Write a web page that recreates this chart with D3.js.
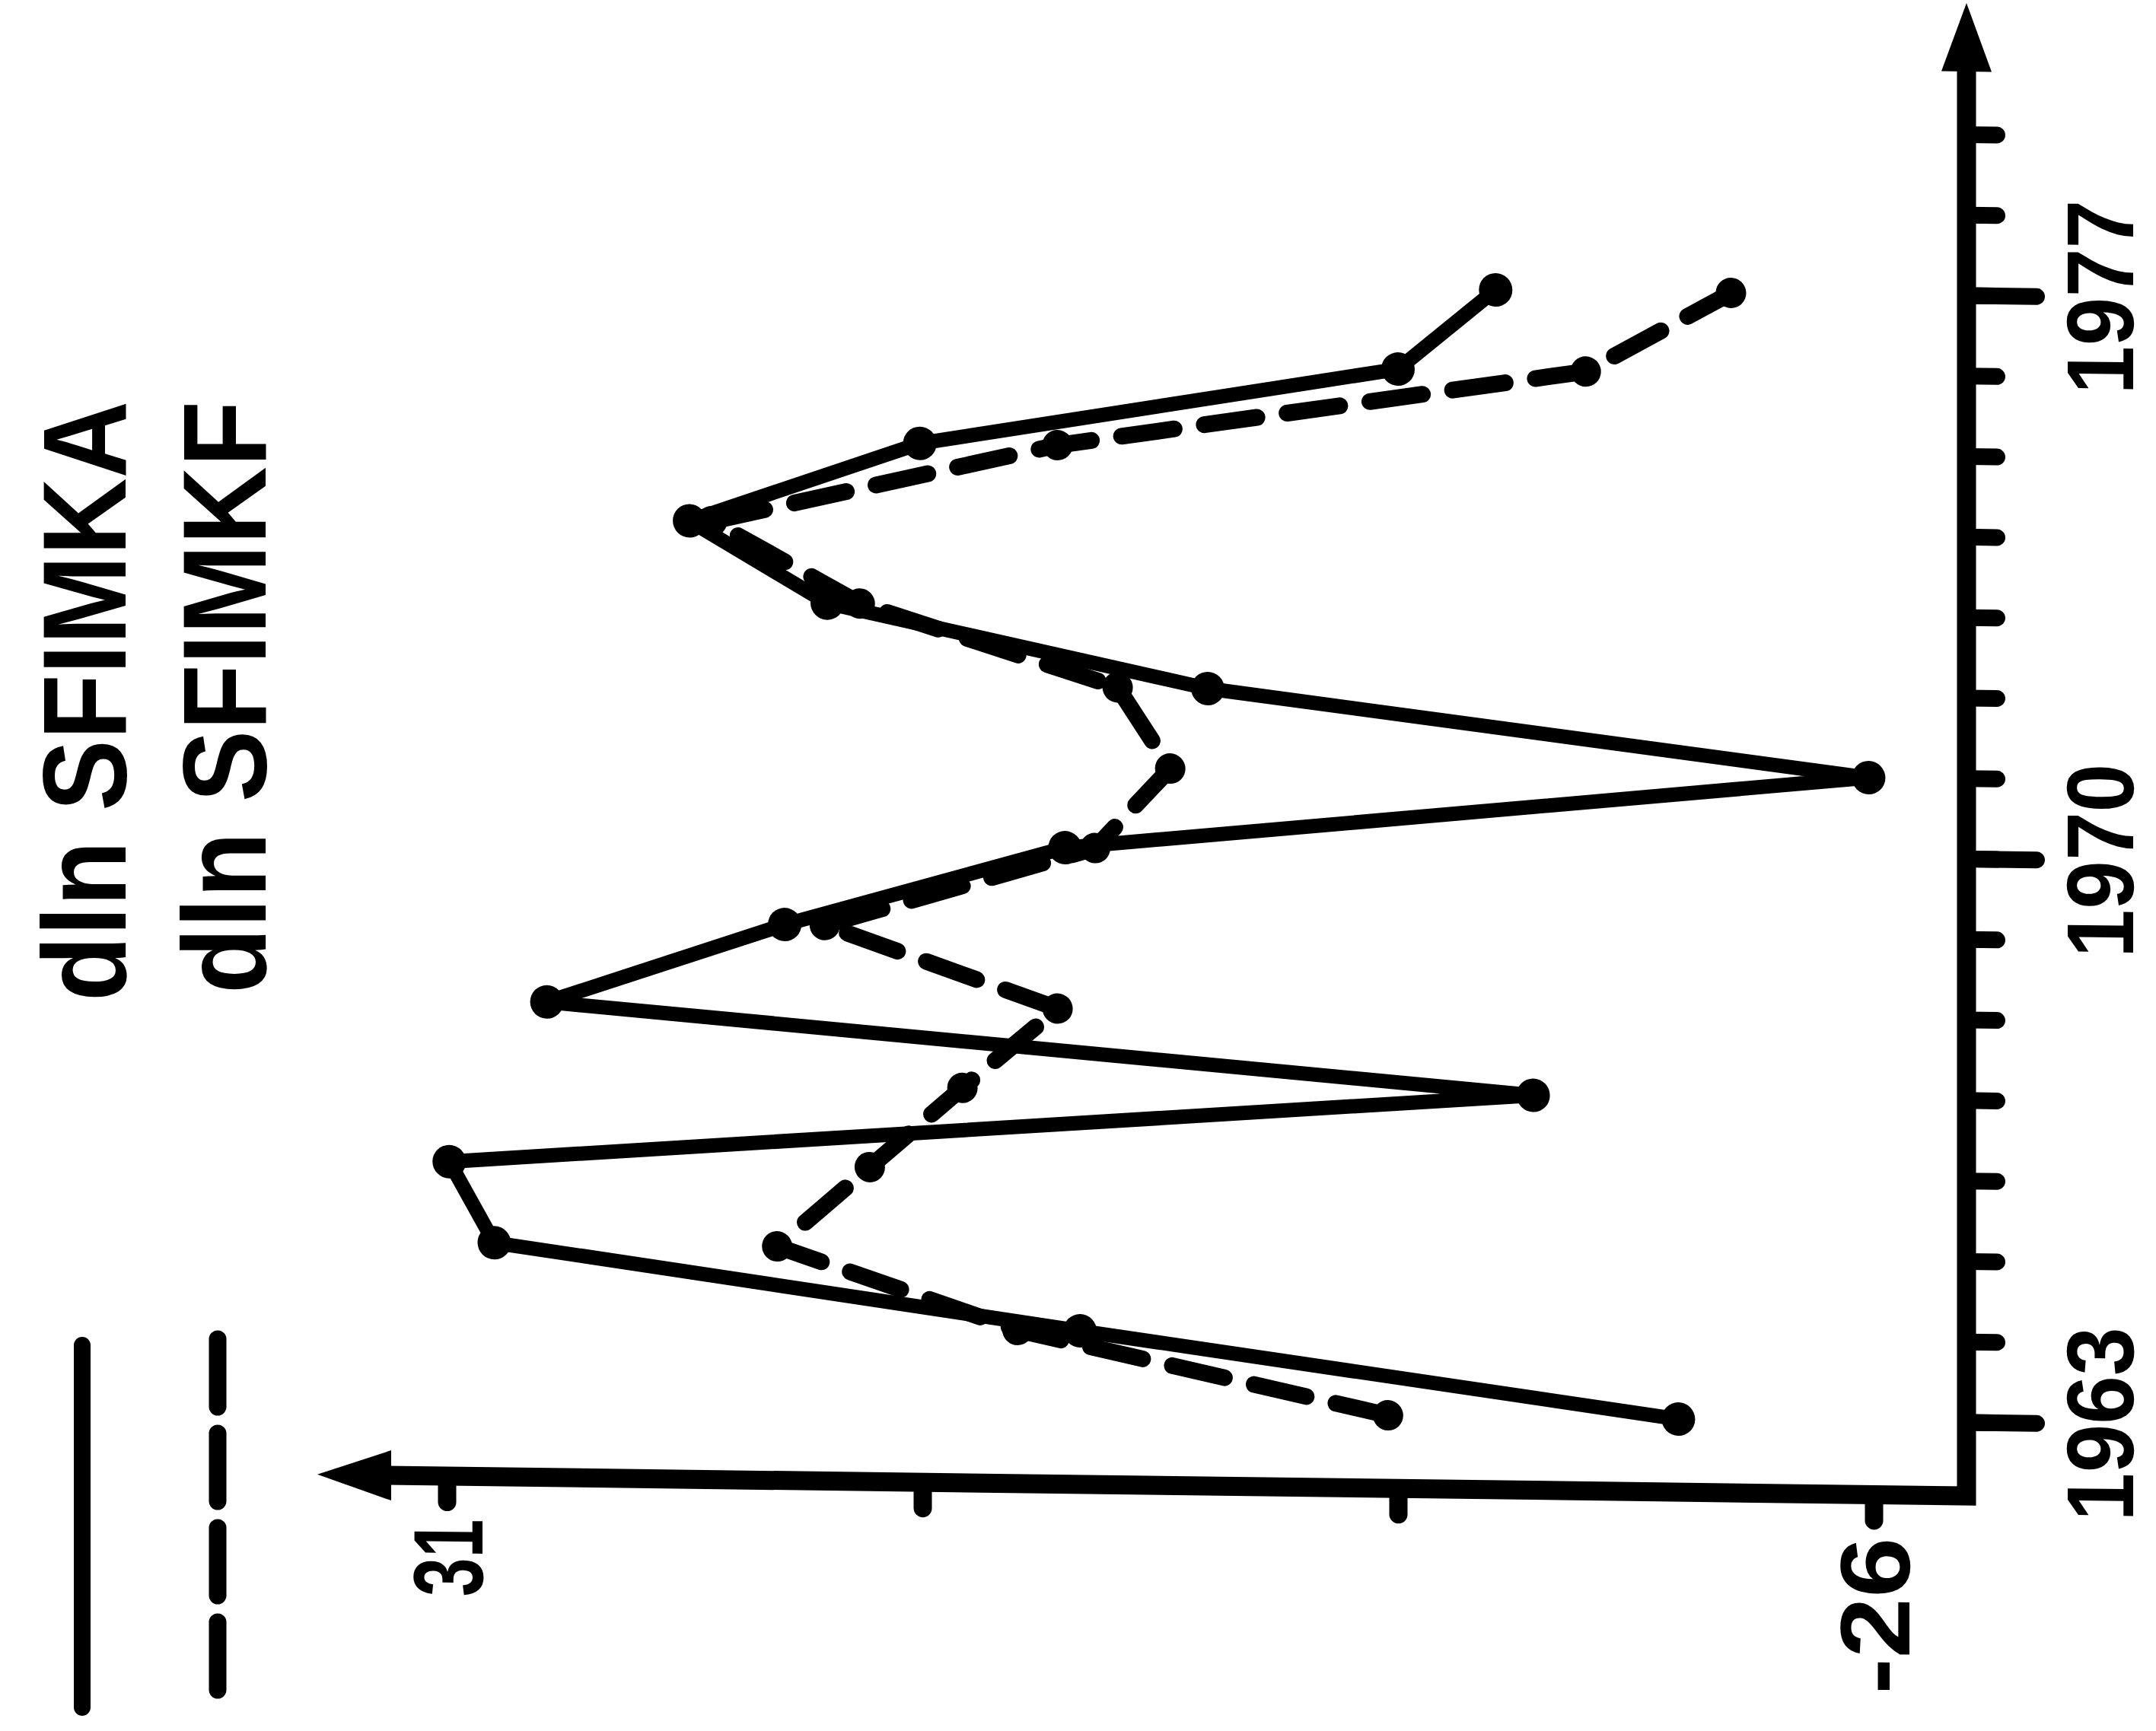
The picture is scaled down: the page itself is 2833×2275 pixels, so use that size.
<!DOCTYPE html>
<html><head><meta charset="utf-8">
<script src="https://cdn.jsdelivr.net/npm/d3@7"></script>
<style>body{margin:0;background:#fff}svg{display:block}</style>
</head><body>
<svg id="c" width="2833" height="2275"></svg>
<script>
// ---- data ----
const years = [1963,1964,1965,1966,1967,1968,1969,1970,1971,1972,1973,1974,1975,1976,1977];
const sfimka = [-18.2, 5.7, 29.1, 30.9, -12.4, 27.0, 17.5, 6.3, -25.8, 0.6, 15.8, 21.3, 12.1, -7.0, -10.9];
const sfimkf = [-6.6, 8.2, 17.8, 14.1, 10.4, 6.6, 15.9, 5.1, 2.1, 4.2, 14.5, 20.4, 6.6, -14.5, -20.3];
const yearTicks = [1963,1964,1965,1966,1967,1968,1969,1970,1971,1972,1973,1974,1975,1976,1977,1978,1979];
const yearLabels = [1963,1970,1977];
const valueTicks = [31,12,-7,-26];
const valueLabels = [31,-26];
const seriesNames = ["dln SFIMKA","dln SFIMKF"];

const FONT = "'Liberation Sans', Arial, sans-serif";
const svg = d3.select("#c");
svg.append("rect").attr("width",2833).attr("height",2275).attr("fill","#fff");

// chart drawn in natural orientation, turned 90deg CCW, with the slight slant of the scan
const g = svg.append("g").attr("transform","translate(2584,1966) matrix(1,0.013,0,1,0,0) rotate(-90)");

const x = d3.scaleLinear().domain([1963,1977]).range([96,1577]);
const y = d3.scaleLinear().domain([31,-26]).range([-1997,-122]);

// axis lines with arrows
const valTip = -2167, yearTip = 1962;
g.append("path").attr("d",`M0,${valTip+90}L0,0L${yearTip-85},0`)
  .attr("fill","none").attr("stroke","#000").attr("stroke-width",25).attr("stroke-linejoin","miter");
g.append("path").attr("d",`M0,${valTip}L-33,${valTip+97}L33,${valTip+97}Z`).attr("fill","#000");
g.append("path").attr("d",`M${yearTip},0L${yearTip-90},-33L${yearTip-90},33Z`).attr("fill","#000");

// value axis (appears at bottom after rotation)
const ya = g.append("g").call(d3.axisLeft(y).tickValues(valueTicks).tickSize(34).tickPadding(22)
  .tickFormat(d => valueLabels.includes(d) ? d : ""));
ya.select(".domain").remove();
ya.selectAll(".tick line").attr("stroke","#000").attr("stroke-width",24).attr("stroke-linecap","round");
ya.selectAll(".tick text").attr("fill","#000").attr("font-family",FONT).attr("font-weight","bold")
  .attr("font-size",130).attr("dy","0.36em")
  .attr("textLength", d => d===31 ? 102 : 206).attr("lengthAdjust","spacingAndGlyphs");

// year axis: short ticks
const xa = g.append("g").call(d3.axisBottom(x).tickValues(yearTicks).tickSize(40).tickFormat(""));
xa.select(".domain").remove();
xa.selectAll(".tick line").attr("stroke","#000").attr("stroke-width",22).attr("stroke-linecap","round");
// long labelled ticks
const xb = g.append("g").call(d3.axisBottom(x).tickValues(yearLabels).tickSize(92).tickPadding(38).tickFormat(d3.format("d")));
xb.select(".domain").remove();
xb.selectAll(".tick line").attr("stroke","#000").attr("stroke-width",22).attr("stroke-linecap","round");
xb.selectAll(".tick text").attr("fill","#000").attr("font-family",FONT).attr("font-weight","bold")
  .attr("font-size",125).attr("textLength",255).attr("lengthAdjust","spacingAndGlyphs");

// series
const A = years.map((yr,i)=>({yr, v:sfimka[i]}));
const F = years.map((yr,i)=>({yr, v:sfimkf[i]}));
const line = d3.line().x(d=>x(d.yr)).y(d=>y(d.v));

g.append("path").datum(F).attr("d",line).attr("fill","none").attr("stroke","#000")
  .attr("stroke-width",22).attr("stroke-dasharray","70 40").attr("stroke-linecap","round").attr("stroke-linejoin","round");
g.append("path").datum(A).attr("d",line).attr("fill","none").attr("stroke","#000")
  .attr("stroke-width",19).attr("stroke-linejoin","round");

g.selectAll("circle.f").data(F).join("circle").attr("class","f")
  .attr("cx",d=>x(d.yr)).attr("cy",d=>y(d.v)).attr("r",20).attr("fill","#000");
g.selectAll("circle.a").data(A).join("circle").attr("class","a")
  .attr("cx",d=>x(d.yr)).attr("cy",d=>y(d.v)).attr("r",22).attr("fill","#000");

// legend (screen space, rotated text)
const leg = svg.append("g");
leg.append("line").attr("x1",108).attr("x2",108).attr("y1",1768).attr("y2",2244)
  .attr("stroke","#000").attr("stroke-width",22).attr("stroke-linecap","round");
leg.append("line").attr("x1",286).attr("x2",286).attr("y1",1760).attr("y2",2228)
  .attr("stroke","#000").attr("stroke-width",23).attr("stroke-linecap","round").attr("stroke-dasharray","89 35");
const legPos = [[165,1316,789],[349,1306,779]];
seriesNames.forEach((s,i)=>{
  leg.append("text").attr("transform",`translate(${legPos[i][0]},${legPos[i][1]}) rotate(-90)`)
    .attr("font-family",FONT).attr("font-weight","bold").attr("font-size",155)
    .attr("textLength",legPos[i][2]).attr("lengthAdjust","spacingAndGlyphs").attr("fill","#000").text(s);
});
</script>
</body></html>
